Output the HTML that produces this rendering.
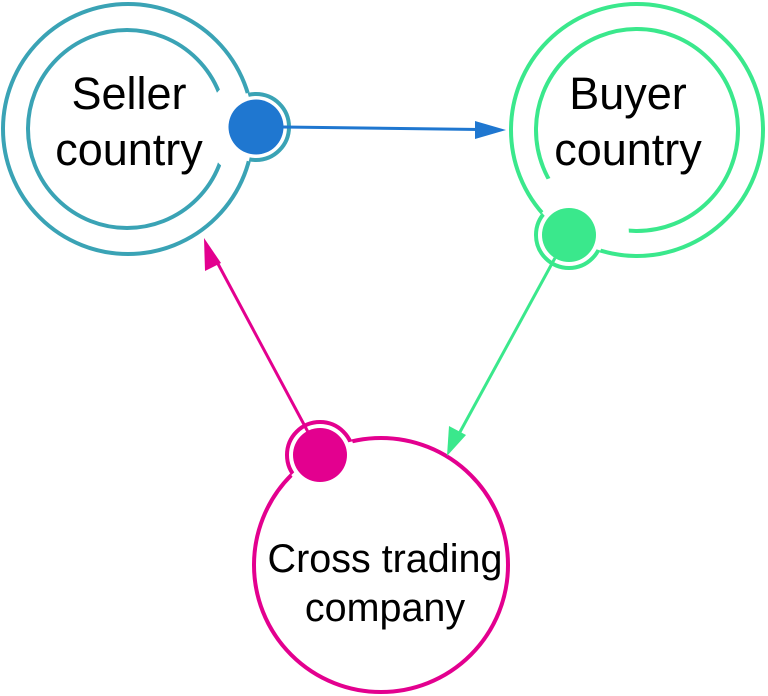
<!DOCTYPE html>
<html><head><meta charset="utf-8"><style>
html,body{margin:0;padding:0;background:#fff;}
svg{display:block;}
text{font-family:"Liberation Sans",sans-serif;fill:#000;}
</style></head><body>
<svg width="768" height="696" viewBox="0 0 768 696" xmlns="http://www.w3.org/2000/svg">
<defs>
  <mask id="mS1"><rect width="768" height="696" fill="#fff"/><circle cx="256" cy="127" r="35" fill="#000"/></mask>
  <mask id="mS2"><rect width="768" height="696" fill="#fff"/><circle cx="256" cy="127" r="52" fill="#000"/></mask>
  <mask id="mS3"><rect width="768" height="696" fill="#fff"/><circle cx="128" cy="129" r="125" fill="#000"/></mask>
  <mask id="mB1"><rect width="768" height="696" fill="#fff"/><circle cx="569" cy="235" r="35" fill="#000"/></mask>
  <mask id="mB2"><rect width="768" height="696" fill="#fff"/><circle cx="569" cy="235" r="60" fill="#000"/></mask>
  <mask id="mB3"><rect width="768" height="696" fill="#fff"/><circle cx="637" cy="130" r="126" fill="#000"/></mask>
  <mask id="mC1"><rect width="768" height="696" fill="#fff"/><circle cx="320" cy="455" r="35" fill="#000"/></mask>
  <mask id="mC3"><rect width="768" height="696" fill="#fff"/><circle cx="381" cy="565" r="127" fill="#000"/></mask>
</defs>

<g stroke="#3aa3b5" stroke-width="4" fill="none">
  <circle cx="128" cy="129" r="125" mask="url(#mS1)"/>
  <circle cx="127" cy="129" r="99" mask="url(#mS2)"/>
  <circle cx="256" cy="127" r="33" mask="url(#mS3)"/>
</g>
<g stroke="#3ae88c" stroke-width="4" fill="none">
  <circle cx="637" cy="130" r="126" mask="url(#mB1)"/>
  <circle cx="637" cy="130" r="101" mask="url(#mB2)"/>
  <circle cx="569" cy="235" r="33" mask="url(#mB3)"/>
</g>
<g stroke="#e3008f" stroke-width="4" fill="none">
  <circle cx="381" cy="565" r="127" mask="url(#mC1)"/>
  <circle cx="320" cy="455" r="33" mask="url(#mC3)"/>
</g>

<line x1="283" y1="127" x2="480" y2="129.5" stroke="#1f77d0" stroke-width="3"/>
<polygon points="506,130 475,121 475,139" fill="#1f77d0"/>
<line x1="555" y1="258" x2="460" y2="432" stroke="#3ae88c" stroke-width="3"/>
<polygon points="447,456 449,426 466,435" fill="#3ae88c"/>
<line x1="308" y1="432" x2="217" y2="262" stroke="#e3008f" stroke-width="3"/>
<polygon points="204,238 221,263 205,271" fill="#e3008f"/>

<circle cx="256" cy="127" r="27.5" fill="#1f77d0"/>
<circle cx="569" cy="235" r="27" fill="#3ae88c"/>
<circle cx="320" cy="455" r="27" fill="#e3008f"/>

<text x="129" y="109" font-size="45" text-anchor="middle">Seller</text>
<text x="129" y="165" font-size="45" text-anchor="middle">country</text>
<text x="628" y="109" font-size="45" text-anchor="middle">Buyer</text>
<text x="628" y="165" font-size="45" text-anchor="middle">country</text>
<text x="385" y="572" font-size="39.5" text-anchor="middle">Cross trading</text>
<text x="385" y="621" font-size="39.5" text-anchor="middle">company</text>
</svg>
</body></html>
